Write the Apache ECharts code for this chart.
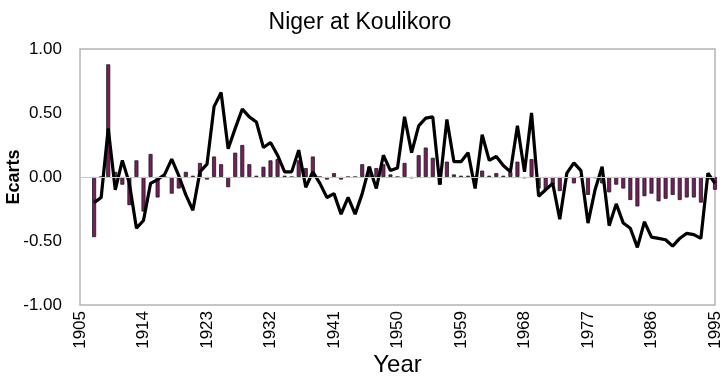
<!DOCTYPE html>
<html><head><meta charset="utf-8">
<script src="https://cdn.jsdelivr.net/npm/echarts@6/dist/echarts.min.js"></script>
<style>html,body{margin:0;padding:0;background:#fff}#c{width:720px;height:382px}</style>
</head><body><div id="c"></div>
<script>
const years = [];
for (let y = 1907; y <= 1995; y++) years.push(y);
const barValues = [
 -0.47, 0.00, 0.88, 0.04, -0.06, -0.22, 0.13, -0.27, 0.18, -0.16,
 0.00, -0.13, -0.09, 0.04, 0.01, 0.11, -0.02, 0.16, 0.10, -0.08,
 0.19, 0.25, 0.10, 0.01, 0.08, 0.13, 0.14, 0.01, 0.00, 0.13,
 0.07, 0.16, 0.00, -0.02, 0.03, -0.02, 0.00, 0.00, 0.10, 0.08,
 0.07, 0.10, 0.02, 0.00, 0.11, -0.01, 0.17, 0.23, 0.15, -0.06,
 0.12, 0.02, 0.01, 0.01, 0.00, 0.05, 0.01, 0.03, 0.01, 0.04,
 0.12, -0.01, 0.14, -0.09, -0.10, -0.06, -0.11, -0.01, -0.05, 0.00,
 -0.14, -0.01, -0.05, -0.12, -0.06, -0.09, -0.18, -0.23, -0.15, -0.13,
 -0.19, -0.17, -0.14, -0.18, -0.16, -0.16, -0.20, -0.02, -0.10
];
const lineValues = [
 -0.20, -0.16, 0.38, -0.10, 0.13, -0.05, -0.40, -0.34, -0.05, -0.02,
 0.02, 0.14, 0.01, -0.14, -0.26, 0.04, 0.10, 0.55, 0.66, 0.22,
 0.38, 0.53, 0.47, 0.43, 0.23, 0.27, 0.17, 0.04, 0.04, 0.21,
 -0.08, 0.04, -0.05, -0.16, -0.13, -0.29, -0.16, -0.29, -0.13, 0.08,
 -0.09, 0.17, 0.05, 0.07, 0.47, 0.19, 0.40, 0.46, 0.47, -0.06,
 0.45, 0.12, 0.12, 0.19, -0.09, 0.33, 0.13, 0.16, 0.09, 0.04,
 0.40, 0.04, 0.50, -0.15, -0.10, -0.05, -0.33, 0.03, 0.11, 0.05,
 -0.36, -0.10, 0.08, -0.38, -0.21, -0.36, -0.40, -0.55, -0.35, -0.47,
 -0.48, -0.49, -0.54, -0.48, -0.44, -0.45, -0.48, 0.03, -0.05
];
const yTicks = [-1, -0.5, 0, 0.5, 1];
const FONT = 'Liberation Sans, Arial, sans-serif';

const chart = echarts.init(document.getElementById('c'), null, {renderer: 'canvas'});
chart.setOption({
  animation: false,
  backgroundColor: '#fff',
  title: {
    text: 'Niger at Koulikoro', left: 'center', top: 6,
    textStyle: {fontFamily: FONT, fontSize: 23, fontWeight: 'normal', color: '#000'}
  },
  grid: {left: 80, right: 5, top: 49, bottom: 77, show: true, borderColor: '#b4b4b4', borderWidth: 1.5,
         containLabel: false, outerBoundsMode: 'none'},
  xAxis: {
    type: 'value', min: 1905, max: 1995, interval: 9,
    name: 'Year', nameLocation: 'middle', nameGap: 48, nameMoveOverlap: false,
    nameTextStyle: {fontFamily: FONT, fontSize: 24, color: '#000'},
    axisLine: {show: false, onZero: false},
    axisTick: {show: false},
    splitLine: {show: false},
    axisLabel: {rotate: 90, fontSize: 17, color: '#000', margin: 6,
      fontFamily: FONT, formatter: v => String(v)}
  },
  yAxis: {
    type: 'value', min: -1, max: 1, interval: 0.5,
    name: 'Ecarts', nameLocation: 'middle', nameGap: 57, nameRotate: 90, nameMoveOverlap: false,
    nameTextStyle: {fontFamily: FONT, fontSize: 18, fontWeight: 'bold', color: '#000'},
    axisLine: {show: false}, axisTick: {show: false}, splitLine: {show: false},
    axisLabel: {fontSize: 17, color: '#000', margin: 18,
      fontFamily: FONT, formatter: v => v.toFixed(2)}
  },
  series: [
    {
      type: 'bar', barWidth: 4,
      data: years.map((y, i) => [y, barValues[i]]),
      itemStyle: {color: '#7a1d5e', borderColor: '#1a1a1a', borderWidth: 0.8},
      markLine: {
        silent: true, symbol: 'none', label: {show: false},
        lineStyle: {color: '#c8c8c8', width: 1, type: 'solid'},
        data: [{yAxis: 0}]
      },
      z: 2
    },
    {
      type: 'line', data: years.map((y, i) => [y, lineValues[i]]),
      showSymbol: false, symbol: 'none',
      lineStyle: {color: '#000', width: 3.2},
      z: 3
    }
  ]
});
</script></body></html>
